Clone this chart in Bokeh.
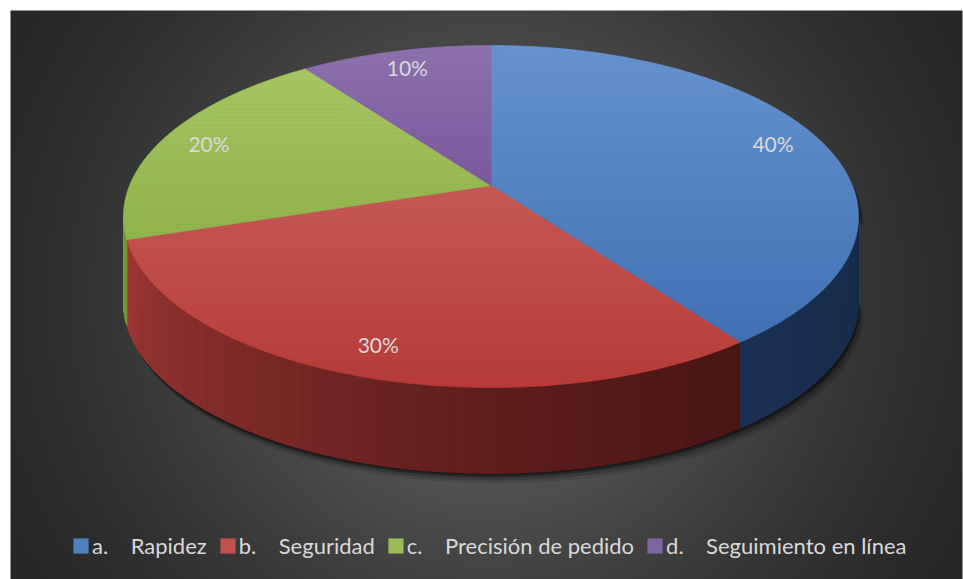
import numpy as np
from bokeh.plotting import figure
from bokeh.models import Range1d, Legend, LegendItem, ColumnDataSource
from bokeh.embed import file_html
from bokeh.resources import INLINE
from bokeh.core.properties import value

# ---------------- data ----------------
categories = ["a.", "b.", "c.", "d."]
names = ["Rapidez", "Seguridad", "Precisión de pedido", "Seguimiento en línea"]
values = [40, 30, 20, 10]
pct_labels = ["40%", "30%", "20%", "10%"]

# ---------------- style ----------------
legend_colors = ["#4f81bd", "#c0504d", "#9bbb59", "#8064a2"]
top_light = ["#6693cf", "#d06c68", "#a8c866", "#8d71ad"]
top_dark = ["#3b6cb0", "#b73b38", "#7fa436", "#5f3388"]
side_left = ["#3f6aa0", "#a53b38", "#7a9a3a", "#6a4a8a"]
side_right = ["#192d4d", "#431311", "#2f4216", "#2a1a40"]
TEXT_COLOR = "#d9d9d9"
FONT = "Lato"

# geometry (screen-pixel data space)
CX, CY, RX, RY = 490.5, 216.0, 367.5, 171.0
DEPTH = 86.0
APEX_Y = 185.0
APEX_V = (APEX_Y - CY) / RY
_t = np.arctanh(APEX_V)
CH, SH = np.cosh(_t), np.sinh(_t)


def proj(theta_deg, r=1.0):
    th = np.radians(theta_deg)
    X = r * np.sin(th)
    Y = -r * np.cos(th)
    Yp = CH * Y + SH
    Wp = SH * Y + CH
    return CX + RX * X / Wp, CY + RY * Yp / Wp


def hex2rgb(h):
    h = h.lstrip("#")
    return np.array([int(h[i:i + 2], 16) for i in (0, 2, 4)], dtype=float)


def lerp_hex(a, b, t):
    c = hex2rgb(a) * (1 - t) + hex2rgb(b) * t
    c = np.clip(np.round(c), 0, 255).astype(int)
    return "#%02x%02x%02x" % tuple(c)


def clip_poly(pts, keep, inter):
    out = []
    n = len(pts)
    for i in range(n):
        cur = pts[i]
        prev = pts[i - 1]
        if keep(cur):
            if not keep(prev):
                out.append(inter(prev, cur))
            out.append(cur)
        elif keep(prev):
            out.append(inter(prev, cur))
    return out


def inter_y(c):
    def f(p, q):
        t = (c - p[1]) / (q[1] - p[1])
        return (p[0] + t * (q[0] - p[0]), c)
    return f


W, H = 963, 579
p = figure(width=W, height=H, x_range=Range1d(0, W), y_range=Range1d(H, 0),
           output_backend="svg", toolbar_location=None, min_border=0,
           x_axis_type=None, y_axis_type=None,
           background_fill_color="white", border_fill_color="white",
           outline_line_color=None)

# ---------------- background radial gradient ----------------
BX0, BY0, BX1, BY1 = 10, 10, 962, 579
bw, bh = BX1 - BX0, BY1 - BY0
gx = BX0 + np.arange(bw) + 0.5
gy = BY0 + np.arange(bh) + 0.5
GX, GY = np.meshgrid(gx, gy)
gcx, gcy = (BX0 + BX1) / 2, (BY0 + BY1) / 2
d = np.sqrt((GX - gcx) ** 2 + (GY - gcy) ** 2)
lum = 38 + 78 * np.clip(1 - d / 570.0, 0, 1) ** 1.48
lum = np.clip(lum, 0, 255).astype(np.uint8)
img = np.empty((bh, bw), dtype=np.uint32)
view = img.view(dtype=np.uint8).reshape((bh, bw, 4))
view[..., 0] = lum
view[..., 1] = lum
view[..., 2] = lum
view[..., 3] = 255
p.image_rgba(image=[img], x=BX0, y=BY0, dw=bw, dh=bh)

# ---------------- slice angles ----------------
total = float(sum(values))
starts, ends = [], []
acc = 0.0
for v in values:
    starts.append(acc / total * 360.0)
    acc += v
    ends.append(acc / total * 360.0)

TH_F = np.degrees(np.arccos(APEX_V))  # front silhouette angle (~100.4)
FRONT = (TH_F, 360.0 - TH_F)

# ---------------- shadow ----------------
back = np.linspace(360.0 - TH_F, 360.0 + TH_F, 200)
front = np.linspace(TH_F, 360.0 - TH_F, 300)
bx, by = proj(back)
fx, fy = proj(front)
sil_x = np.concatenate([bx, fx[::-1]])
sil_y = np.concatenate([by, fy[::-1] + DEPTH])
for ox, oy, a in [(6, 10, 0.10), (4, 7, 0.18), (2, 4, 0.30), (1, 2, 0.35)]:
    p.patch(sil_x + ox, sil_y + oy, fill_color="black", fill_alpha=a, line_color=None)

# ---------------- sides ----------------
LEFT, RIGHT = CX - RX, CX + RX
sxs, sys_, scol = [], [], []
for i in range(len(values)):
    a = max(starts[i], FRONT[0])
    b = min(ends[i], FRONT[1])
    if b <= a:
        continue
    n = max(2, int(np.ceil((b - a) / 0.5)) + 1)
    th = np.linspace(a, b, n)
    xx, yy = proj(th)
    for k in range(n - 1):
        xm = 0.5 * (xx[k] + xx[k + 1])
        t = np.clip((xm - LEFT) / (RIGHT - LEFT), 0, 1) ** 0.5
        sxs.append([xx[k], xx[k + 1], xx[k + 1], xx[k]])
        sys_.append([yy[k], yy[k + 1], yy[k + 1] + DEPTH, yy[k] + DEPTH])
        scol.append(lerp_hex(side_left[i], side_right[i], t))
p.patches(sxs, sys_, fill_color=scol, line_color=scol, line_width=0.8)

# ---------------- top faces (vertical gradient bands) ----------------
ax_, ay_ = proj(0.0, 0.0)
GY0 = proj(0.0)[1]
GY1 = proj(180.0)[1]
txs, tys, tcol = [], [], []
band = 4.0
for i in range(len(values)):
    th = np.linspace(starts[i], ends[i], max(3, int((ends[i] - starts[i]) / 0.5) + 1))
    xx, yy = proj(th)
    poly = [(ax_, ay_)] + list(zip(xx, yy))
    ymin, ymax = min(pt[1] for pt in poly), max(pt[1] for pt in poly)
    y = np.floor(ymin)
    while y < ymax:
        y0, y1 = y, y + band
        c1 = clip_poly(poly, lambda q, y0=y0: q[1] >= y0, inter_y(y0))
        c2 = clip_poly(c1, lambda q, y1=y1: q[1] <= y1, inter_y(y1)) if c1 else []
        if len(c2) >= 3:
            t = np.clip(((y0 + y1) / 2 - GY0) / (GY1 - GY0), 0, 1)
            col = lerp_hex(top_light[i], top_dark[i], t)
            txs.append([q[0] for q in c2])
            tys.append([q[1] for q in c2])
            tcol.append(col)
        y += band
p.patches(txs, tys, fill_color=tcol, line_color=tcol, line_width=0.7)

# ---------------- percentage labels ----------------
LABEL_R = 0.86
lx, ly = [], []
for i in range(len(values)):
    mid = 0.5 * (starts[i] + ends[i])
    x_, y_ = proj(mid, LABEL_R)
    lx.append(x_)
    ly.append(y_)
p.text(x=lx, y=ly, text=pct_labels, text_align="center", text_baseline="middle",
       text_color=TEXT_COLOR, text_font=value(FONT), text_font_size="21px")

# ---------------- legend ----------------
items = []
for i in range(len(values)):
    src = ColumnDataSource(dict(left=[-60], right=[-50], top=[-60], bottom=[-50]))
    r = p.quad(left="left", right="right", top="top", bottom="bottom", source=src,
               fill_color=legend_colors[i], line_color=None)
    label = categories[i] + "\u00a0" * 4 + names[i]
    items.append(LegendItem(label=label, renderers=[r]))

legend = Legend(items=items, orientation="horizontal", location=(71, 20),
                background_fill_alpha=0, border_line_color=None,
                label_text_color=TEXT_COLOR, label_text_font=FONT,
                label_text_font_size="22px", glyph_width=19, glyph_height=19,
                label_standoff=2, spacing=11, padding=0, margin=0,
                label_height=19)
p.add_layout(legend)

open("out.html", "w").write(file_html(p, INLINE))
